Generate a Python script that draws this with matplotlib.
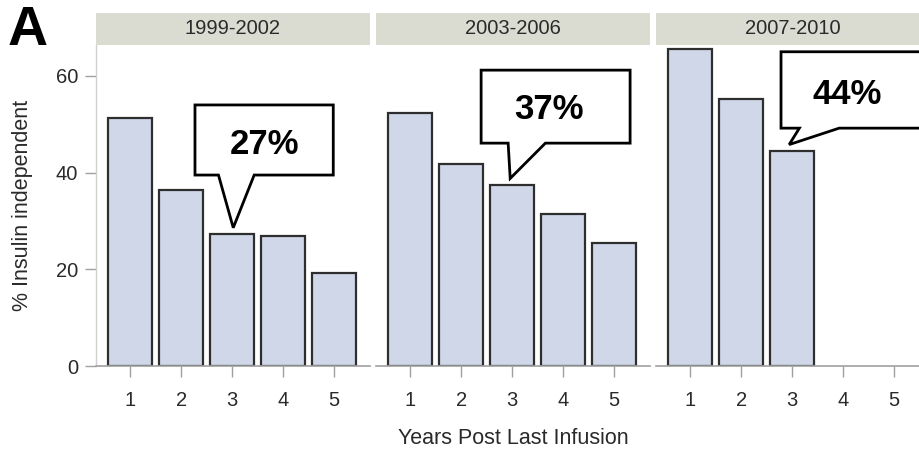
import matplotlib.pyplot as plt
from matplotlib.patches import Polygon

plt.rcParams['font.family'] = ['Liberation Sans', 'DejaVu Sans']

# data
periods = ['1999-2002', '2003-2006', '2007-2010']
years = [1, 2, 3, 4, 5]
pct_1999 = [51.3, 36.4, 27.3, 26.9, 19.2]
pct_2003 = [52.4, 41.8, 37.5, 31.5, 25.5]
pct_2007 = [65.6, 55.3, 44.5]
callout_labels = ['27%', '37%', '44%']
yticks = [0, 20, 40, 60]

series = [pct_1999, pct_2003, pct_2007]

# callout geometry (box x0, x1, y0, y1, pointer base x0, x1, tip x, text x, text y)
callouts = [
    (2.27, 4.98, 39.5, 54.0, 2.73, 3.43, 3.02, 3.63, 45.9),
    (2.39, 5.31, 46.1, 61.2, 2.92, 3.65, 2.96, 3.71, 53.0),
    (2.78, 7.00, 49.2, 65.0, 3.14, 3.92, 2.94, 4.08, 56.1),
]

bar_color = '#cfd7e8'
edge_color = '#2e2e2e'
axis_gray = '#a0a0a0'
text_gray = '#2a2a2a'
strip_color = '#dadbd1'

fig = plt.figure(figsize=(9.2, 4.51), dpi=100)

lefts = [96, 376, 656]
W, H = 920, 451
pw = 274
for i, (vals, period) in enumerate(zip(series, periods)):
    left = lefts[i] / W
    ax = fig.add_axes([left, (H - 366) / H, pw / W, 321 / H])
    ax.bar(years[:len(vals)], vals, width=0.86, color=bar_color,
           edgecolor=edge_color, linewidth=1.6, zorder=2)
    ax.set_xlim(0.33, 5.7)
    ax.set_ylim(0, 66.4)
    ax.set_xticks(years)
    for s in ['top', 'right']:
        ax.spines[s].set_visible(False)
    ax.spines['bottom'].set_color(axis_gray)
    ax.spines['bottom'].set_linewidth(1.2)
    ax.tick_params(axis='x', length=8, width=1.0, color=axis_gray,
                   labelsize=14.5, labelcolor=text_gray, pad=10)
    if i == 0:
        ax.set_yticks(yticks)
        ax.spines['left'].set_color('#d0d0d0')
        ax.spines['left'].set_linewidth(1.0)
        ax.tick_params(axis='y', length=8, width=1.0, color=axis_gray,
                       labelsize=14.5, labelcolor=text_gray, pad=5)
        ax.set_ylabel('% Insulin independent', fontsize=15.5, color=text_gray,
                      labelpad=16)
    else:
        ax.set_yticks([])
        ax.spines['left'].set_visible(False)

    # callout pointing at year 3
    bx0, bx1, by0, by1, px0, px1, tipx, tx, ty = callouts[i]
    tip = (tipx, vals[2] + 1.3)
    poly = Polygon([(bx0, by0), (bx0, by1), (bx1, by1), (bx1, by0),
                    (px1, by0), tip, (px0, by0)], closed=True,
                   facecolor='white', edgecolor='black', linewidth=2.0,
                   zorder=5, clip_on=True)
    ax.add_patch(poly)
    ax.text(tx, ty, callout_labels[i], fontsize=25, fontweight='bold',
            ha='center', va='center', zorder=6)

    # strip header
    sax = fig.add_axes([left, (H - 45) / H, pw / W, 32 / H])
    sax.set_facecolor(strip_color)
    sax.set_xticks([])
    sax.set_yticks([])
    for s in sax.spines.values():
        s.set_visible(False)
    sax.text(0.5, 0.5, period, transform=sax.transAxes, ha='center',
             va='center', fontsize=14.5, color=text_gray)

fig.text(513 / W, 1 - 438 / H, 'Years Post Last Infusion', ha='center',
         va='center', fontsize=15.5, color=text_gray)
fig.text(8 / W, 1 - 31 / H, 'A', ha='left', va='center', fontsize=40,
         fontweight='bold')

fig.savefig('out.png', dpi=100)
